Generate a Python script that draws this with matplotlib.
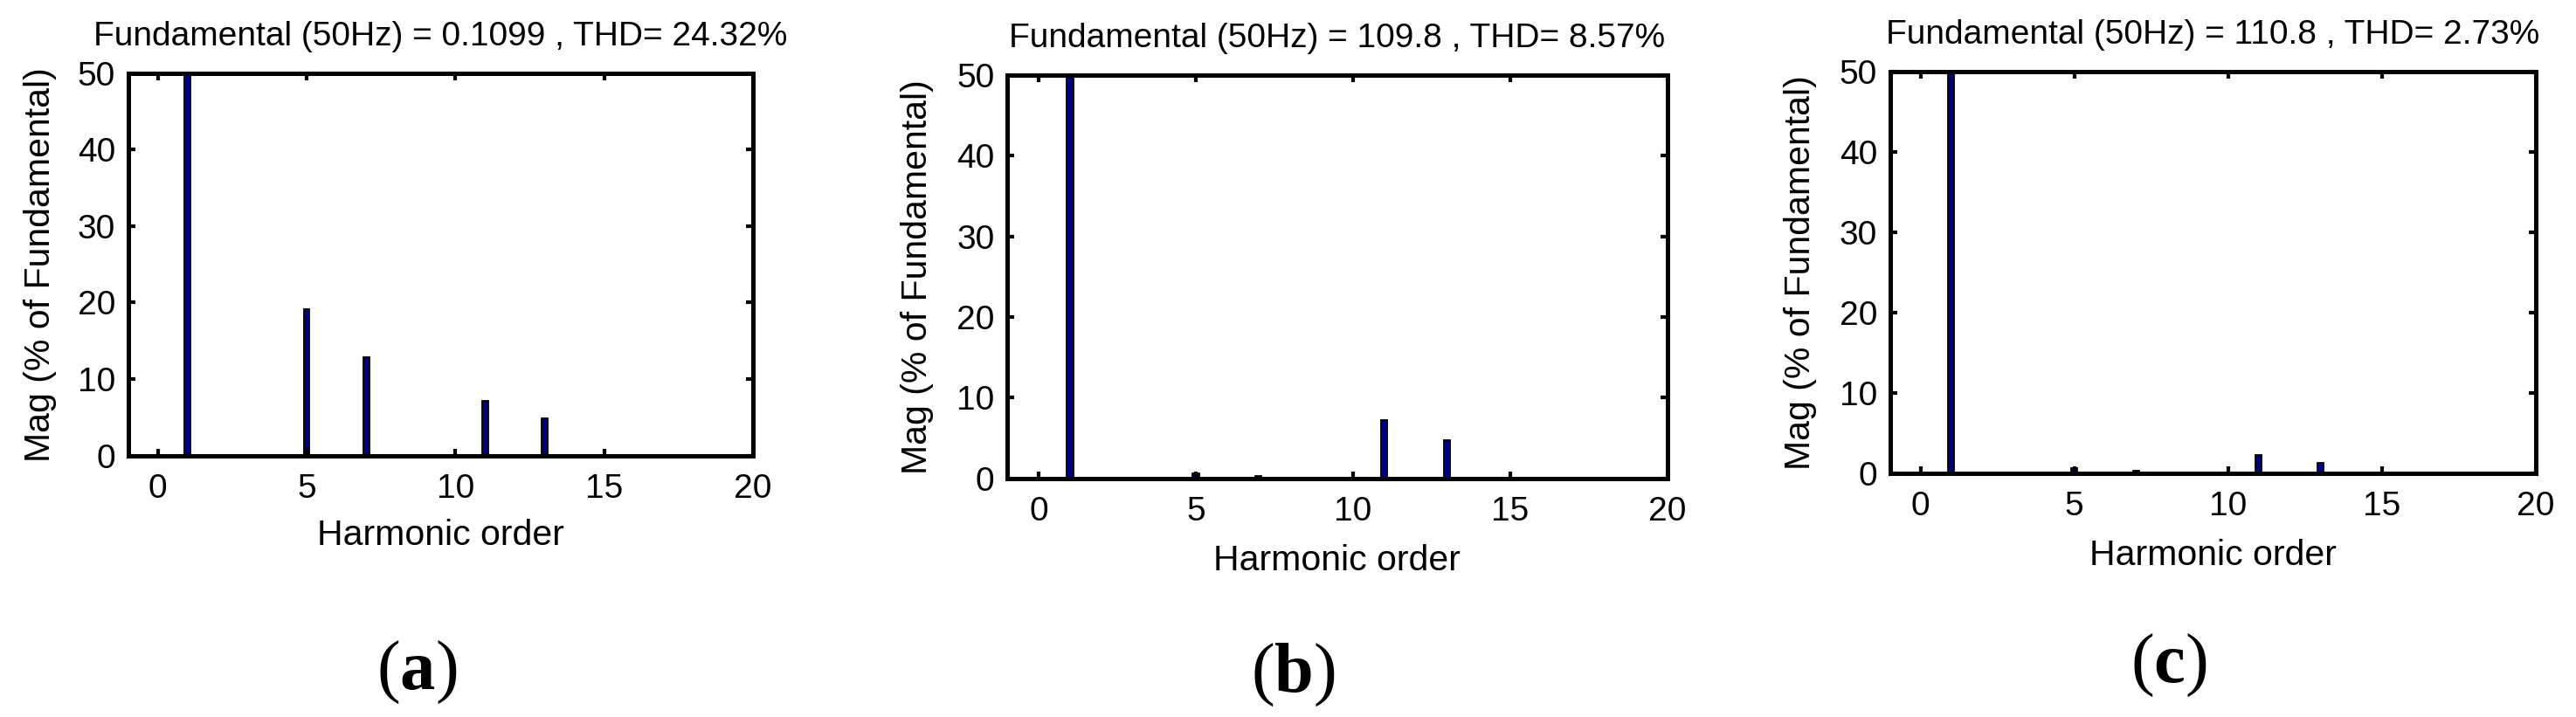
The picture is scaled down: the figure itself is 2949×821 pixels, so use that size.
import matplotlib
matplotlib.use('Agg')
import matplotlib.pyplot as plt
import numpy as np

plt.rcParams['font.family'] = ['Liberation Sans', 'DejaVu Sans']
plt.rcParams['mathtext.fontset'] = 'custom'
plt.rcParams['mathtext.rm'] = 'Liberation Serif'
plt.rcParams['mathtext.bf'] = 'Liberation Serif:bold'

# harmonic spectrum, % of fundamental (the fundamental itself is 100, clipped at 50)
orders = np.arange(0, 21)
mag_a = [0, 100, 0, 0, 0, 19.1, 0, 12.9, 0, 0, 0, 7.1, 0, 4.9, 0, 0, 0, 0, 0, 0, 0]
mag_b = [0, 100, 0, 0, 0, 0.6, 0, 0.3, 0, 0, 0, 7.2, 0, 4.7, 0, 0, 0, 0, 0, 0, 0]
mag_c = [0, 100, 0, 0, 0, 0.6, 0, 0.3, 0, 0, 0, 2.2, 0, 1.2, 0, 0, 0, 0, 0, 0, 0]

fund = ['0.1099', '109.8', '110.8']
thd = ['24.32', '8.57', '2.73']
panel_names = ['a', 'b', 'c']

if __name__ == '__main__':
    fig = plt.figure(figsize=(29.49, 8.21), dpi=100)

    # 每个子图的位置 [left, bottom, width, height]，按像素换算
    W, H = 2949.0, 821.0
    boxes = [(146.6, 521.5, 715.4, 437.5),
             (1153.0, 547.5, 755.7, 461.5),
             (2163.5, 541.5, 739.3, 459.5)]
    ylab_x = [65, 1069, 2080]
    xlab_y = [594, 623, 617]
    tag_pos = [(477, 770), (1480, 773), (2483, 762)]

    for i, mag in enumerate([mag_a, mag_b, mag_c]):
        l, b, w, h = boxes[i]
        ax = fig.add_axes([l / W, (H - b) / H, w / W, h / H])

        ax.bar(orders, mag, width=0.2, color='#000080', edgecolor='black', linewidth=1.3)

        ax.set_xlim(-1, 20)
        ax.set_ylim(0, 50)
        ax.set_xticks([0, 5, 10, 15, 20])
        ax.set_yticks([0, 10, 20, 30, 40, 50])

        ax.tick_params(axis='both', direction='in', length=6, width=3,
                       top=True, right=True, labelsize=28, colors='black')
        ax.tick_params(axis='x', pad=14.4)
        ax.tick_params(axis='y', pad=10.5)
        for sp in ax.spines.values():
            sp.set_linewidth(3.6)
            sp.set_color('black')

        ax.set_title('Fundamental (50Hz) = ' + fund[i] + ' , THD= ' + thd[i] + '%',
                     fontsize=28, pad=23)
        ax.set_ylabel('Mag (% of Fundamental)', fontsize=29.5)
        ax.yaxis.set_label_coords((ylab_x[i] - l) / w, 0.5)
        ax.set_xlabel('Harmonic order', fontsize=29.5, va='top')
        ax.xaxis.set_label_coords(0.5, -(xlab_y[i] - b) / h)

        tx, ty = tag_pos[i]
        fig.text(tx / W, (H - ty) / H, r'($\mathbf{' + panel_names[i] + '}$)',
                 fontsize=58, family='Liberation Serif', ha='center', va='center')

    plt.savefig('out.png', dpi=100)
